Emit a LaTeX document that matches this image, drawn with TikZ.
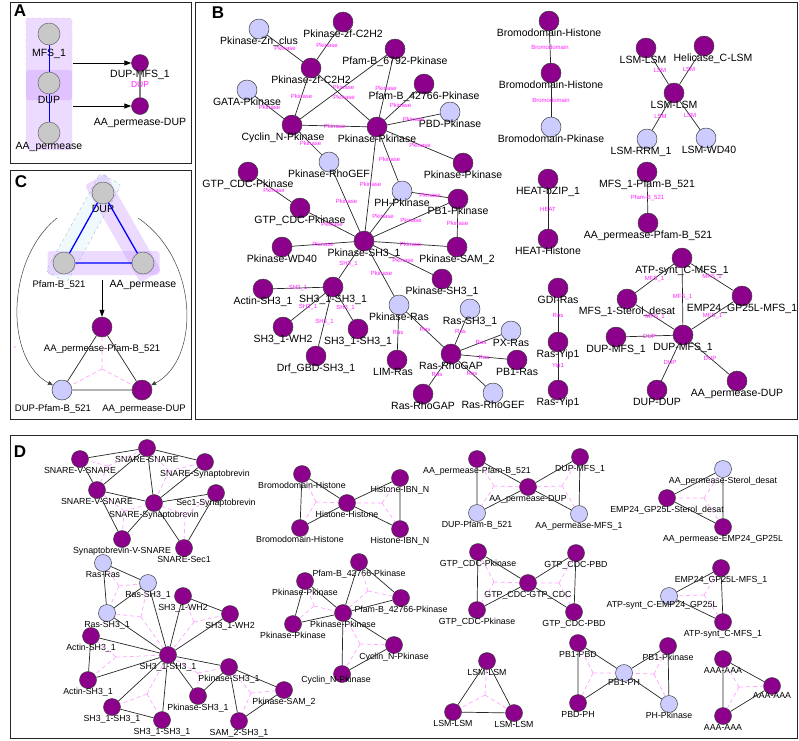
\documentclass[tikz,border=0pt]{standalone}
\usepackage{fontspec}
\setmainfont{Liberation Sans}
\usetikzlibrary{arrows.meta}

\definecolor{nodepurple}{RGB}{140,0,140}
\definecolor{nodeblue}{RGB}{204,204,255}
\definecolor{nodegray}{RGB}{200,200,200}
\definecolor{linkpink}{RGB}{255,165,255}
\definecolor{labpink}{RGB}{255,30,255}
\definecolor{panelfill}{RGB}{200,150,255}

\tikzset{
  netnode/.style={circle, draw=black!75, line width=0.5pt, inner sep=0pt},
  bpu/.style={netnode, fill=nodepurple, minimum size=20pt},
  bbl/.style={netnode, fill=nodeblue, minimum size=20pt},
  dpu/.style={netnode, fill=nodepurple, minimum size=17pt},
  dbl/.style={netnode, fill=nodeblue, minimum size=17pt},
  gry/.style={netnode, draw=black!60, fill=nodegray, minimum size=22pt},
  link/.style={draw=black!85, line width=0.7pt},
  motif/.style={draw=linkpink, line width=0.7pt, dash pattern=on 4pt off 3pt},
  elab/.style={font=\fontsize{6}{6}\selectfont, text=labpink, inner sep=0pt},
  panel/.style={draw=black!85, line width=1pt},
  letter/.style={font=\fontsize{17}{17}\selectfont\bfseries, inner sep=0pt},
  strip/.style={rectangle, minimum width=112pt, minimum height=24pt, inner sep=0pt, rounded corners=3pt},
  arr/.style={-{Triangle[length=7pt,width=5pt]}, line width=0.8pt},
  curvearr/.style={-{Triangle[length=5pt,width=4pt]}, draw=black!75, line width=0.5pt},
  big labels/.style={every label/.style={font=\fontsize{10.5}{12}\selectfont, inner sep=0pt, text height=7.5pt, text depth=0pt}, label distance=-2.8pt},
  small labels/.style={every label/.style={font=\fontsize{8.8}{10}\selectfont, inner sep=0pt, text height=6.3pt, text depth=0pt}, label distance=-1.2pt},
}

\begin{document}
\begin{tikzpicture}[x=1pt,y=-1pt]
\useasboundingbox (0,0) rectangle (799,740);

\draw[panel] (10,2) rectangle (191,163);
\draw[panel] (10,170) rectangle (191,419);
\draw[panel] (195,2) rectangle (797,419);
\draw[panel] (10,435) rectangle (797,738);
\node[letter] (la) at (20,11) {A};
\node[letter] (lb) at (218,13) {B};
\node[letter] (lc) at (21,182) {C};
\node[letter] (ld) at (20,452) {D};

% A
\fill[panelfill, opacity=.35, rounded corners=3pt] (26,18) rectangle (72,100);
\fill[panelfill, opacity=.35, rounded corners=3pt] (26,70) rectangle (72,150);
\draw[magenta!30, dashed, rounded corners=3pt] (26,18) rectangle (72,100);
\begin{scope}[big labels]
\node[gry, label={[yshift=-6pt]below:MFS\_1}] (a1) at (49,34) {};
\node[gry, label={[yshift=-4pt]below:DUP}] (a2) at (49,83) {};
\node[gry, label={below:AA\_permease}] (a3) at (49,133) {};
\node[dpu, label={[yshift=-1pt]below:DUP-MFS\_1}] (a4) at (140,63) {};
\node[dpu, label={[yshift=-6pt]below:AA\_permease-DUP}] (a5) at (140,106) {};
\end{scope}
\draw[blue, line width=1pt] (a1) -- (a2) -- (a3);
\draw[gray, line width=1.2pt] (a4) -- node[elab, font=\fontsize{8.5}{9}\selectfont] {DUP} (a5);
\coordinate (fa1) at (73,63);
\coordinate (fa2) at (73,106);
\draw[arr] (fa1) -- (a4);
\draw[arr] (fa2) -- (a5);

% C
\path (103,193) -- (64,263) node[midway, sloped, strip, fill=cyan!6, draw=gray!55, dashed] (sc1) {};
\path (103,193) -- (143,263) node[midway, sloped, strip, fill=panelfill, fill opacity=.35] (sc2) {};
\path (64,263) -- (143,263) node[midway, sloped, strip, fill=panelfill, fill opacity=.35] (sc3) {};
\begin{scope}[big labels]
\node[gry, label={[yshift=-3pt]below:DUP}] (c1) at (103,193) {};
\node[gry, label={[yshift=-8pt, xshift=-5pt, font=\fontsize{9.5}{11}\selectfont]below:Pfam-B\_521}] (c2) at (64,263) {};
\node[gry, label={[yshift=-8pt]below:AA\_permease}] (c3) at (143,263) {};
\node[bpu, label={[yshift=-9pt, font=\fontsize{9.5}{11}\selectfont]below:AA\_permease-Pfam-B\_521}] (c4) at (102,327) {};
\node[bbl, label={[yshift=-6pt, xshift=-9pt, font=\fontsize{9.5}{11}\selectfont]below:DUP-Pfam-B\_521}] (c5) at (62,390) {};
\node[bpu, label={[yshift=-6pt, xshift=2pt, font=\fontsize{9.5}{11}\selectfont]below:AA\_permease-DUP}] (c6) at (142,390) {};
\end{scope}
\draw[blue, line width=1.3pt] (c1) -- (c2) -- (c3) -- (c1);
\coordinate (ym) at (102,369);
\draw[motif] (ym) -- (c4) (ym) -- (c5) (ym) -- (c6);
\draw[link] (c4) -- (c5) -- (c6) -- (c4);
\coordinate (tc) at (102,280);
\draw[arr, line width=0.6pt] (tc) -- (c4);
\coordinate (cl) at (57,218);
\coordinate (cr) at (138,218);
\draw[curvearr] (cl) .. controls (5,260) and (5,360) .. (c5);
\draw[curvearr] (cr) .. controls (200,260) and (200,360) .. (c6);
\fill[labpink] (15,347) circle (0.6pt);

% B
\begin{scope}[big labels]
\node[bbl, label={below:Pkinase-Zn\_clus}] (zn) at (259,29) {};
\node[bpu, label={below:Pkinase-zf-C2H2}] (zf1) at (343,22) {};
\node[bpu, label={below:Pkinase-zf-C2H2}] (zf2) at (311,68) {};
\node[bpu, label={below:Pfam-B\_6792-Pkinase}] (pf67) at (395,49) {};
\node[bpu, label={below:Pfam-B\_42766-Pkinase}] (pf42) at (424,84) {};
\node[bbl, label={below:GATA-Pkinase}] (gata) at (247,90) {};
\node[bbl, label={below:PBD-Pkinase}] (pbd) at (450,112) {};
\node[bpu, label={[xshift=-9pt]below:Cyclin\_N-Pkinase}] (cyc) at (292,125) {};
\node[bpu, label={below:Pkinase-Pkinase}] (pkpk) at (377,127) {};
\node[bbl, label={below:Pkinase-RhoGEF}] (rgef) at (329,162) {};
\node[bpu, label={below:Pkinase-Pkinase}] (pkr) at (463,163) {};
\node[bpu, label={below:GTP\_CDC-Pkinase}] (gtp1) at (248,172) {};
\node[bbl, label={below:PH-Pkinase}] (ph) at (402,191) {};
\node[bpu, label={below:PB1-Pkinase}] (pb1) at (458,199) {};
\node[bpu, label={below:GTP\_CDC-Pkinase}] (gtp2) at (300,208) {};
\node[bpu, label={below:Pkinase-SH3\_1}] (pksh) at (364,241) {};
\node[bpu, label={below:Pkinase-WD40}] (wd) at (282,247) {};
\node[bpu, label={below:Pkinase-SAM\_2}] (sam) at (457,247) {};
\node[bpu, label={below:Pkinase-SH3\_1}] (pksh2) at (442,279) {};
\node[bpu, label={below:Actin-SH3\_1}] (actin) at (263,289) {};
\node[bpu, label={below:SH3\_1-SH3\_1}] (shsh) at (333,287) {};
\node[bbl, label={below:Pkinase-Ras}] (pkras) at (399,305) {};
\node[bpu, label={below:SH3\_1-WH2}] (wh) at (283,327) {};
\node[bpu, label={below:SH3\_1-SH3\_1}] (shsh2) at (358,329) {};
\node[bpu, label={below:Drf\_GBD-SH3\_1}] (drf) at (316,356) {};
\node[bpu, label={[xshift=-4pt]below:LIM-Ras}] (lim) at (397,360) {};
\node[bpu, label={below:Ras-RhoGAP}] (gap) at (451,354) {};
\node[bpu, label={below:Ras-RhoGAP}] (gap2) at (423,394) {};
\node[bbl, label={below:Ras-SH3\_1}] (rassh) at (470,309) {};
\node[bbl, label={below:Ras-RhoGEF}] (rasgef) at (493,393) {};
\node[bbl, label={below:PX-Ras}] (px) at (511,331) {};
\node[bpu, label={below:PB1-Ras}] (pb1ras) at (517,360) {};
\node[bpu, label={below:Bromodomain-Histone}] (bh1) at (549,21) {};
\node[bpu, label={below:Bromodomain-Histone}] (bh2) at (551,73) {};
\node[bbl, label={below:Bromodomain-Pkinase}] (bpk) at (551,127) {};
\node[bpu, label={[xshift=-3pt]below:LSM-LSM}] (lsm1) at (646,48) {};
\node[bpu, label={[xshift=9pt]below:Helicase\_C-LSM}] (heli) at (704,46) {};
\node[bpu, label={below:LSM-LSM}] (lsm) at (674,93) {};
\node[bbl, label={[xshift=-6pt]below:LSM-RRM\_1}] (rrm) at (647,139) {};
\node[bbl, label={[xshift=3pt]below:LSM-WD40}] (wd40) at (706,138) {};
\node[bpu, label={below:HEAT-bZIP\_1}] (heat1) at (548,179) {};
\node[bpu, label={below:HEAT-Histone}] (heat2) at (548,239) {};
\node[bpu, label={below:MFS\_1-Pfam-B\_521}] (mfspf) at (647,172) {};
\node[bpu, label={below:AA\_permease-Pfam-B\_521}] (aapf) at (648,223) {};
\node[bpu, label={below:GDI-Ras}] (gdi) at (558,288) {};
\node[bpu, label={below:Ras-Yip1}] (yip1) at (558,342) {};
\node[bpu, label={below:Ras-Yip1}] (yip2) at (558,390) {};
\node[bpu, label={below:ATP-synt\_C-MFS\_1}] (atp) at (682,258) {};
\node[bpu, label={below:MFS\_1-Sterol\_desat}] (ster) at (627,299) {};
\node[bpu, label={below:EMP24\_GP25L-MFS\_1}] (emp) at (742,296) {};
\node[bpu, label={below:DUP-MFS\_1}] (dm) at (683,335) {};
\node[bpu, label={below:DUP-MFS\_1}] (dml) at (616,337) {};
\node[bpu, label={below:DUP-DUP}] (dd) at (657,390) {};
\node[bpu, label={below:AA\_permease-DUP}] (aad) at (737,381) {};
\end{scope}

\draw[link] (zn) -- node[elab] {Pkinase} (zf2);
\draw[link] (zf1) -- node[elab] {Pkinase} (zf2);
\draw[link] (zf2) -- node[elab] {Pkinase} (cyc);
\draw[link] (zf2) -- node[elab] {Pkinase} (pkpk);
\draw[link] (pf67) -- node[elab] {Pkinase} (cyc);
\draw[link] (pf67) -- node[elab] {Pkinase} (pkpk);
\draw[link] (pf42) -- node[elab] {Pkinase} (pkpk);
\draw[link] (gata) -- node[elab] {Pkinase} (cyc);
\draw[link] (pbd) -- node[elab] {Pkinase} (pkpk);
\draw[link] (cyc) -- node[elab] {Pkinase} (pkpk);
\draw[link] (cyc) -- node[elab] {Pkinase} (rgef);
\draw[link] (pkpk) -- node[elab] {Pkinase} (pkr);
\draw[link] (pkpk) -- node[elab] {Pkinase} (ph);
\draw[link] (pkpk) -- node[elab] {Pkinase} (pksh);
\draw[link] (rgef) -- node[elab] {Pkinase} (pksh);
\draw[link] (gtp1) -- node[elab] {Pkinase} (gtp2);
\draw[link] (gtp2) -- node[elab] {Pkinase} (pksh);
\draw[link] (ph) -- node[elab] {Pkinase} (pb1);
\draw[link] (ph) -- node[elab] {Pkinase} (pksh);
\draw[link] (pb1) -- node[elab] {Pkinase} (pksh);
\draw[link] (pb1) -- node[elab] {Pkinase} (sam);
\draw[link] (wd) -- node[elab] {Pkinase} (pksh);
\draw[link] (sam) -- node[elab] {Pkinase} (pksh);
\draw[link] (pksh2) -- node[elab] {Pkinase} (pksh);
\draw[link] (pksh) -- node[elab] {SH3\_1} (shsh);
\draw[link] (pksh) -- node[elab] {Pkinase} (pkras);
\draw[link] (shsh) -- node[elab] {SH3\_1} (actin);
\draw[link] (shsh) -- node[elab] {SH3\_1} (wh);
\draw[link] (shsh) -- node[elab] {SH3\_1} (drf);
\draw[link] (shsh) -- node[elab] {SH3\_1} (shsh2);
\draw[link] (pkras) -- node[elab] {Ras} (lim);
\draw[link] (pkras) -- node[elab] {Ras} (gap);
\draw[link] (rassh) -- node[elab] {Ras} (gap);
\draw[link] (gap) -- node[elab] {Ras} (px);
\draw[link] (gap) -- node[elab] {Ras} (pb1ras);
\draw[link] (gap) -- node[elab] {Ras} (gap2);
\draw[link] (gap) -- node[elab] {Ras} (rasgef);
\draw[link] (bh1) -- node[elab] {Bromodomain} (bh2);
\draw[link] (bh2) -- node[elab] {Bromodomain} (bpk);
\draw[link] (lsm1) -- node[elab] {LSM} (lsm);
\draw[link] (heli) -- node[elab] {LSM} (lsm);
\draw[link] (lsm) -- node[elab] {LSM} (rrm);
\draw[link] (lsm) -- node[elab] {LSM} (wd40);
\draw[link] (heat1) -- node[elab] {HEAT} (heat2);
\draw[link] (mfspf) -- node[elab] {Pfam-B\_521} (aapf);
\draw[link] (gdi) -- node[elab] {Ras} (yip1);
\draw[link] (yip1) -- node[elab] {Yip1} (yip2);
\draw[link] (atp) -- node[elab] {MFS\_1} (ster);
\draw[link] (atp) -- node[elab] {MFS\_1} (emp);
\draw[link] (atp) -- node[elab] {MFS\_1} (dm);
\draw[link] (ster) -- node[elab] {MFS\_1} (dm);
\draw[link] (emp) -- node[elab] {MFS\_1} (dm);
\draw[link] (dml) -- node[elab] {DUP} (dm);
\draw[link] (dm) -- node[elab] {DUP} (dd);
\draw[link] (dm) -- node[elab] {DUP} (aad);

% D
\begin{scope}[small labels]
\node[dpu, label={below:SNARE-SNARE}] (s1) at (147,448) {};
\node[dpu, label={below:SNARE-V-SNARE}] (s2) at (80,459) {};
\node[dpu, label={below:SNARE-Synaptobrevin}] (s3) at (205,462) {};
\node[dpu, label={below:SNARE-V-SNARE}] (s4) at (97,490) {};
\node[dpu, label={[yshift=1.5pt]below:Sec1-Synaptobrevin}] (s5) at (216,493) {};
\node[dpu, label={below:SNARE-Synaptobrevin}] (s6) at (154,503) {};
\node[dpu, label={below:Synaptobrevin-V-SNARE}] (s7) at (122,539) {};
\node[dpu, label={below:SNARE-Sec1}] (s8) at (184,548) {};
\node[dbl, label={below:Ras-Ras}] (h1) at (103,563) {};
\node[dbl, label={below:Ras-SH3\_1}] (h2) at (148,583) {};
\node[dbl, label={below:Ras-SH3\_1}] (h3) at (107,613) {};
\node[dpu, label={below:SH3\_1-WH2}] (h4) at (183,596) {};
\node[dpu, label={below:SH3\_1-WH2}] (h5) at (230,614) {};
\node[dpu, label={below:Actin-SH3\_1}] (h6) at (91,636) {};
\node[dpu, label={below:SH3\_1-SH3\_1}] (h7) at (168,655) {};
\node[dpu, label={below:Pkinase-SH3\_1}] (h8) at (229,667) {};
\node[dpu, label={below:Actin-SH3\_1}] (h9) at (88,680) {};
\node[dpu, label={below:Pkinase-SH3\_1}] (h10) at (198,696) {};
\node[dpu, label={below:SH3\_1-SH3\_1}] (h11) at (112,707) {};
\node[dpu, label={below:SH3\_1-SH3\_1}] (h12) at (162,720) {};
\node[dpu, label={below:SAM\_2-SH3\_1}] (h13) at (239,721) {};
\node[dpu, label={below:Pkinase-SAM\_2}] (h14) at (284,690) {};
\node[dpu, label={below:Bromodomain-Histone}] (i1) at (302,474) {};
\node[dpu, label={below:Bromodomain-Histone}] (i2) at (300,528) {};
\node[dpu, label={below:Histone-Histone}] (i3) at (347,503) {};
\node[dpu, label={below:Histone-IBN\_N}] (i4) at (400,478) {};
\node[dpu, label={below:Histone-IBN\_N}] (i5) at (400,529) {};
\node[dpu, label={below:AA\_permease-Pfam-B\_521}] (u1) at (477,459) {};
\node[dpu, label={below:AA\_permease-DUP}] (u2) at (528,487) {};
\node[dbl, label={below:DUP-Pfam-B\_521}] (u3) at (477,513) {};
\node[dpu, label={below:DUP-MFS\_1}] (u4) at (580,457) {};
\node[dbl, label={below:AA\_permease-MFS\_1}] (u5) at (579,514) {};
\node[dbl, label={below:AA\_permease-Sterol\_desat}] (t1) at (723,469) {};
\node[dpu, label={below:EMP24\_GP25L-Sterol\_desat}] (t2) at (667,498) {};
\node[dpu, label={below:AA\_permease-EMP24\_GP25L}] (t3) at (723,527) {};
\node[dpu, label={below:GTP\_CDC-Pkinase}] (g1) at (478,552) {};
\node[dpu, label={below:GTP\_CDC-PBD}] (g2) at (576,553) {};
\node[dpu, label={below:GTP\_CDC-GTP\_CDC}] (g3) at (528,583) {};
\node[dpu, label={below:GTP\_CDC-Pkinase}] (g4) at (477,610) {};
\node[dpu, label={below:GTP\_CDC-PBD}] (g5) at (574,612) {};
\node[dpu, label={below:Pfam-B\_42766-Pkinase}] (k1) at (359,562) {};
\node[dpu, label={below:Pkinase-Pkinase}] (k2) at (305,581) {};
\node[dpu, label={below:Pfam-B\_42766-Pkinase}] (k3) at (401,598) {};
\node[dpu, label={below:Pkinase-Pkinase}] (k4) at (343,613) {};
\node[dpu, label={below:Pkinase-Pkinase}] (k5) at (293,624) {};
\node[dpu, label={below:Cyclin\_N-Pkinase}] (k6) at (394,645) {};
\node[dpu, label={[yshift=5.5pt, xshift=-6pt]below:Cyclin\_N-Pkinase}] (k7) at (342,674) {};
\node[dpu, label={below:LSM-LSM}] (l1) at (487,661) {};
\node[dpu, label={below:LSM-LSM}] (l2) at (453,712) {};
\node[dpu, label={below:LSM-LSM}] (l3) at (514,713) {};
\node[dpu, label={below:EMP24\_GP25L-MFS\_1}] (e1) at (721,568) {};
\node[dbl, label={[yshift=2.5pt, xshift=-7pt]below:ATP-synt\_C-EMP24\_GP25L}] (e2) at (669,596) {};
\node[dpu, label={below:ATP-synt\_C-MFS\_1}] (e3) at (723,622) {};
\node[dpu, label={below:PB1-PBD}] (p1) at (578,643) {};
\node[dpu, label={below:PB1-Pkinase}] (p2) at (668,646) {};
\node[dbl, label={[yshift=1.5pt]below:PB1-PH}] (p3) at (624,673) {};
\node[dpu, label={below:PBD-PH}] (p4) at (578,703) {};
\node[dbl, label={below:PH-Pkinase}] (p5) at (669,704) {};
\node[dpu, label={below:AAA-AAA}] (q1) at (723,659) {};
\node[dpu, label={[yshift=1.5pt]below:AAA-AAA}] (q2) at (772,686) {};
\node[dpu, label={below:AAA-AAA}] (q3) at (723,716) {};
\end{scope}

\coordinate (y1) at (108,466);
\draw[motif] (y1) -- (s2) (y1) -- (s1) (y1) -- (s4);
\coordinate (y2) at (169,471);
\draw[motif] (y2) -- (s1) (y2) -- (s3) (y2) -- (s6);
\coordinate (y3) at (124,511);
\draw[motif] (y3) -- (s4) (y3) -- (s6) (y3) -- (s7);
\coordinate (y4) at (185,515);
\draw[motif] (y4) -- (s6) (y4) -- (s5) (y4) -- (s8);
\coordinate (y5) at (119,586);
\draw[motif] (y5) -- (h1) (y5) -- (h2) (y5) -- (h3);
\coordinate (y6) at (141,617);
\draw[motif] (y6) -- (h2) (y6) -- (h3) (y6) -- (h7);
\coordinate (y7) at (194,622);
\draw[motif] (y7) -- (h4) (y7) -- (h5) (y7) -- (h7);
\coordinate (y8) at (116,657);
\draw[motif] (y8) -- (h6) (y8) -- (h9) (y8) -- (h7);
\coordinate (y9) at (198,673);
\draw[motif] (y9) -- (h8) (y9) -- (h10) (y9) -- (h7);
\coordinate (y10) at (147,694);
\draw[motif] (y10) -- (h11) (y10) -- (h12) (y10) -- (h7);
\coordinate (y11) at (251,693);
\draw[motif] (y11) -- (h8) (y11) -- (h13) (y11) -- (h14);
\coordinate (y12) at (316,502);
\draw[motif] (y12) -- (i1) (y12) -- (i2) (y12) -- (i3);
\coordinate (y13) at (382,503);
\draw[motif] (y13) -- (i3) (y13) -- (i4) (y13) -- (i5);
\coordinate (y14) at (494,486);
\draw[motif] (y14) -- (u1) (y14) -- (u2) (y14) -- (u3);
\coordinate (y15) at (562,486);
\draw[motif] (y15) -- (u2) (y15) -- (u4) (y15) -- (u5);
\coordinate (y16) at (704,498);
\draw[motif] (y16) -- (t1) (y16) -- (t2) (y16) -- (t3);
\coordinate (y17) at (494,582);
\draw[motif] (y17) -- (g1) (y17) -- (g3) (y17) -- (g4);
\coordinate (y18) at (559,583);
\draw[motif] (y18) -- (g3) (y18) -- (g2) (y18) -- (g5);
\coordinate (y19) at (368,591);
\draw[motif] (y19) -- (k1) (y19) -- (k3) (y19) -- (k4);
\coordinate (y20) at (314,606);
\draw[motif] (y20) -- (k2) (y20) -- (k5) (y20) -- (k4);
\coordinate (y21) at (360,644);
\draw[motif] (y21) -- (k4) (y21) -- (k6) (y21) -- (k7);
\coordinate (y22) at (485,695);
\draw[motif] (y22) -- (l1) (y22) -- (l2) (y22) -- (l3);
\coordinate (y23) at (704,595);
\draw[motif] (y23) -- (e1) (y23) -- (e2) (y23) -- (e3);
\coordinate (y24) at (593,673);
\draw[motif] (y24) -- (p1) (y24) -- (p3) (y24) -- (p4);
\coordinate (y25) at (654,674);
\draw[motif] (y25) -- (p2) (y25) -- (p3) (y25) -- (p5);
\coordinate (y26) at (739,687);
\draw[motif] (y26) -- (q1) (y26) -- (q2) (y26) -- (q3);

\draw[link] (s2) -- (s1) -- (s4) -- (s2);
\draw[link] (s1) -- (s3) -- (s6) -- (s1);
\draw[link] (s4) -- (s6) -- (s7) -- (s4);
\draw[link] (s6) -- (s5) -- (s8) -- (s6);
\draw[link] (h1) -- (h2) -- (h3) -- (h1);
\draw[link] (h2) -- (h7) -- (h3);
\draw[link] (h4) -- (h5) -- (h7) -- (h4);
\draw[link] (h6) -- (h9) -- (h7) -- (h6);
\draw[link] (h8) -- (h10) -- (h7) -- (h8);
\draw[link] (h11) -- (h12) -- (h7) -- (h11);
\draw[link] (h8) -- (h13) -- (h14) -- (h8);
\draw[link] (i1) -- (i2) -- (i3) -- (i1);
\draw[link] (i3) -- (i4) -- (i5) -- (i3);
\draw[link] (u1) -- (u2) -- (u3) -- (u1);
\draw[link] (u2) -- (u4) -- (u5) -- (u2);
\draw[link] (t1) -- (t2) -- (t3) -- (t1);
\draw[link] (g1) -- (g3) -- (g4) -- (g1);
\draw[link] (g3) -- (g2) -- (g5) -- (g3);
\draw[link] (k1) -- (k3) -- (k4) -- (k1);
\draw[link] (k2) -- (k5) -- (k4) -- (k2);
\draw[link] (k4) -- (k6) -- (k7) -- (k4);
\draw[link] (l1) -- (l2) -- (l3) -- (l1);
\draw[link] (e1) -- (e2) -- (e3) -- (e1);
\draw[link] (p1) -- (p3) -- (p4) -- (p1);
\draw[link] (p2) -- (p3) -- (p5) -- (p2);
\draw[link] (q1) -- (q2) -- (q3) -- (q1);
\end{tikzpicture}
\end{document}
